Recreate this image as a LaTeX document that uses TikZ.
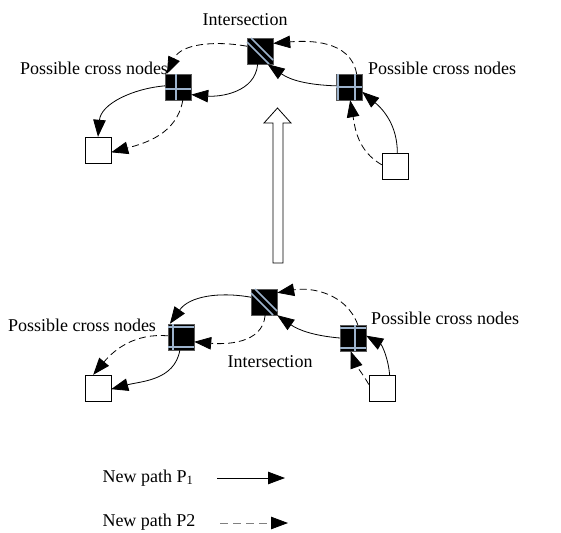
\documentclass[tikz,border=0pt]{standalone}
\usepackage{fontspec}
\setmainfont{Liberation Serif}
\usetikzlibrary{arrows.meta, positioning}
\definecolor{crossblue}{HTML}{9DB3CC}

\begin{document}
\begin{tikzpicture}[x=1pt, y=1pt, >={Triangle[length=17pt, width=12.5pt]},
  font=\fontsize{18}{21}\selectfont,
  junction/.style={rectangle, draw=gray!70!black, fill=black, minimum size=26pt, inner sep=0pt},
  endbox/.style={rectangle, draw, fill=white, minimum size=26pt, inner sep=0pt},
  pathone/.style={->, line width=0.8pt},
  pathtwo/.style={->, line width=0.8pt, dash pattern=on 7pt off 4pt},
  stripe/.style={crossblue, line width=1.6pt}]
  \useasboundingbox (0,0) rectangle (561,-532);

  % after
  \node[junction] (I1) at (260,-51) {};
  \node[junction] (L1) at (178,-87) {};
  \node[junction] (R1) at (349,-87) {};
  \node[endbox] (A1) at (98,-150) {};
  \node[endbox] (B1) at (395,-166) {};
  \draw[stripe] ([shift={(-9,13)}]I1.center) -- ([shift={(13,-9)}]I1.center);
  \draw[stripe] ([shift={(-13,9)}]I1.center) -- ([shift={(9,-13)}]I1.center);
  \draw[stripe] ([shift={(-2,13)}]L1.center) -- ([shift={(-2,-13)}]L1.center);
  \draw[stripe] ([shift={(-13,-2)}]L1.center) -- ([shift={(13,-2)}]L1.center);
  \draw[stripe] ([shift={(-11,13)}]R1.center) -- ([shift={(-11,-13)}]R1.center);
  \draw[stripe] ([shift={(6,13)}]R1.center) -- ([shift={(6,-13)}]R1.center);
  \draw[stripe] ([shift={(-13,0)}]R1.center) -- ([shift={(13,0)}]R1.center);
  \node (lblI1) at (245,-20) {Intersection};
  \node (lblL1) at (94,-68) {Possible cross nodes};
  \node (lblR1) at (442,-68) {Possible cross nodes};

  \draw[pathtwo] (R1.60) to[out=100, in=5] (I1.30);
  \draw[pathtwo] (I1.160) to[out=170, in=65] (L1.130);
  \draw[pathone] (R1.175) to[out=178, in=-35] (I1.-60);
  \draw[pathone] (I1.-100) to[out=-95, in=-5] (L1.-30);
  \draw[pathone] (L1.175) to[out=185, in=85] (A1.north);
  \draw[pathtwo] (L1.-70) to[out=-100, in=15] (A1.-10);
  \draw[pathone] (B1.80) to[out=90, in=-40] (R1.-20);
  \draw[pathtwo] (B1.175) to[out=150, in=-80] (R1.-85);

  % hollow arrow
  \draw[line width=0.8pt, fill=white] (273,-263) -- (283,-263) -- (283,-123) -- (291,-123)
    -- (277.5,-108) -- (264,-123) -- (273,-123) -- cycle;

  % before
  \node[junction] (I2) at (264,-302) {};
  \node[junction] (L2) at (181,-337) {};
  \node[junction] (R2) at (353,-338) {};
  \node[endbox] (A2) at (98,-388) {};
  \node[endbox] (B2) at (382,-388) {};
  \draw[stripe] ([shift={(-9,13)}]I2.center) -- ([shift={(13,-9)}]I2.center);
  \draw[stripe] ([shift={(-13,9)}]I2.center) -- ([shift={(9,-13)}]I2.center);
  \draw[stripe] ([shift={(-13,10)}]L2.center) -- ([shift={(13,10)}]L2.center);
  \draw[stripe] ([shift={(-13,-10)}]L2.center) -- ([shift={(13,-10)}]L2.center);
  \draw[stripe] ([shift={(-8,13)}]L2.center) -- ([shift={(-8,-13)}]L2.center);
  \draw[stripe] ([shift={(-13,10)}]R2.center) -- ([shift={(13,10)}]R2.center);
  \draw[stripe] ([shift={(-13,-10)}]R2.center) -- ([shift={(13,-10)}]R2.center);
  \draw[stripe] ([shift={(2,13)}]R2.center) -- ([shift={(2,-13)}]R2.center);
  \node (lblL2) at (82,-325) {Possible cross nodes};
  \node (lblR2) at (445,-318) {Possible cross nodes};
  \node (lblI2) at (270,-362) {Intersection};

  \draw[pathone] (I2.160) to[out=170, in=55] (L2.130);
  \draw[pathtwo] (I2.-85) to[out=-95, in=-5] (L2.-20);
  \draw[pathtwo] (R2.70) to[out=110, in=10] (I2.35);
  \draw[pathone] (R2.180) to[out=175, in=-35] (I2.-45);
  \draw[pathtwo] (L2.175) to[out=175, in=50] (A2.110);
  \draw[pathone] (L2.-95) to[out=-100, in=15] (A2.-5);
  \draw[pathone] (B2.60) to[out=95, in=-30] (R2.10);
  \draw[pathtwo] (B2.165) to[out=120, in=-70] (R2.-100);

  % legend
  \node (leg1) at (148,-478) {New path P\textsubscript{1}};
  \node (leg2) at (149,-522) {New path P2};
  \coordinate (s1) at (217,-478);
  \coordinate (e1) at (285,-478);
  \coordinate (s2) at (220,-523);
  \coordinate (e2) at (288,-523);
  \draw[pathone] (s1) -- (e1);
  \draw[pathtwo, gray, dash pattern=on 8pt off 5pt,
    -{Triangle[length=17pt, width=12.5pt, black]}] (s2) -- (e2);
\end{tikzpicture}
\end{document}
